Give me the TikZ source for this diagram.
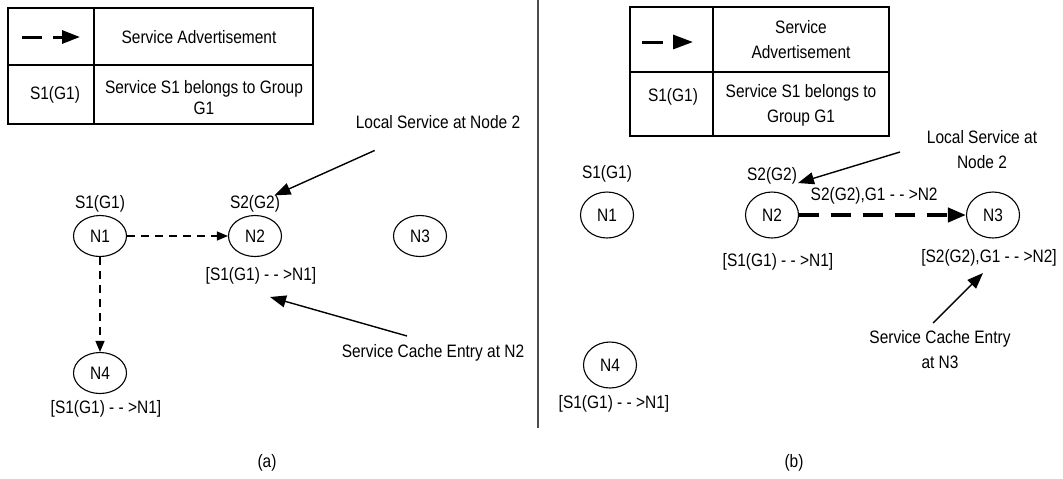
\documentclass[tikz,border=0pt]{standalone}
\usepackage{fontspec}
\setmainfont{Liberation Sans}[FakeStretch=0.86]
\usetikzlibrary{arrows.meta,positioning,shapes.geometric}

\tikzset{
  netnode/.style={ellipse,draw,line width=0.55pt,minimum width=26.5pt,minimum height=20.5pt,inner sep=0pt},
  tag/.style={inner sep=0pt},
  tabline/.style={line width=0.7pt},
  advert/.style={dash pattern=on 4pt off 3pt,line width=0.55pt,-{Triangle[length=5.5pt,width=4.5pt]}},
  bigadvert/.style={dash pattern=on 10pt off 6pt,line width=2pt,-{Triangle[length=9pt,width=7pt]}},
  pointer/.style={line width=0.7pt,-{Triangle[length=8pt,width=6pt]}},
}

\begin{document}
\begin{tikzpicture}[x=0.5pt,y=-0.5pt,font=\fontsize{9}{12.5}\selectfont]
    \useasboundingbox (0,0) rectangle (1063,478);

    % (a) legend
    \draw[tabline] (8,8) rectangle (313,124);
    \draw[tabline] (94,8) -- (94,124);
    \draw[tabline] (8,65) -- (313,65);
    \coordinate (keyA1) at (22,37);
    \coordinate (keyA2) at (80,37);
    \draw[line width=1.5pt,dash pattern=on 10pt off 5.5pt,-{Triangle[length=9pt,width=6.5pt]}] (keyA1) -- (keyA2);
    \node (advA) at (199,37) {Service Advertisement};
    \node (sgA) at (55,95) {S1(G1)};
    \node[align=center,font=\fontsize{9}{10.5}\selectfont] (belA) at (204,98) {Service S1 belongs to Group\\G1};

    % (a) nodes
    \node[netnode] (N1a) at (100,236) {N1};
    \node[netnode] (N2a) at (255,236) {N2};
    \node[netnode] (N3a) at (420,236) {N3};
    \node[netnode] (N4a) at (100,373) {N4};
    \node[tag,above=1pt of N1a] (svcA1) {S1(G1)};
    \node[tag,above=1pt of N2a] (svcA2) {S2(G2)};
    \node[tag,below=5pt of N2a,xshift=3pt] (entA2) {[S1(G1) - - >N1]};
    \node[tag,below=3pt of N4a,xshift=3pt] (entA4) {[S1(G1) - - >N1]};
    \draw[advert] (N1a) -- (N2a);
    \draw[advert] (N1a) -- (N4a);

    % (a) notes
    \node (locA) at (438,122) {Local Service at Node 2};
    \draw[pointer,shorten <=18pt] (locA) -- (svcA2);
    \node (cacheA) at (433,353) {Service Cache Entry at N2};
    \coordinate (cacheAfrom) at (407,336);
    \coordinate (cacheAtip) at (270,297);
    \draw[pointer] (cacheAfrom) -- (cacheAtip);

    % divider and captions
    \coordinate (divTop) at (538,0);
    \coordinate (divBot) at (538,428);
    \draw[gray!60!black,line width=0.8pt] (divTop) -- (divBot);
    \node (capA) at (267,463) {(a)};
    \node (capB) at (794,463) {(b)};

    % (b) legend
    \draw[tabline] (630,7) rectangle (889,136);
    \draw[tabline] (713,7) -- (713,136);
    \draw[tabline] (630,72) -- (889,72);
    \coordinate (keyB1) at (642,42);
    \coordinate (keyB2) at (693,42);
    \draw[line width=1.5pt,dash pattern=on 10.5pt off 5pt,-{Triangle[length=10pt,width=7pt]}] (keyB1) -- (keyB2);
    \node[align=center] (advB) at (801,40) {Service\\Advertisement};
    \node (sgB) at (673,97) {S1(G1)};
    \node[align=center] (belB) at (801,105) {Service S1 belongs to\\Group G1};

    % (b) nodes
    \node[netnode,minimum height=23pt] (N1b) at (607,215) {N1};
    \node[netnode,minimum height=23pt] (N2b) at (772,215) {N2};
    \node[netnode,minimum height=23pt] (N3b) at (993,215) {N3};
    \node[netnode,minimum height=23pt] (N4b) at (610,365) {N4};
    \node[tag,above=4.5pt of N1b] (svcB1) {S1(G1)};
    \node[tag,above=3.5pt of N2b] (svcB2) {S2(G2)};
    \node[tag,below=7pt of N2b,xshift=3pt] (entB2) {[S1(G1) - - >N1]};
    \node[tag,below=5pt of N3b,xshift=-2pt] (entB3) {[S2(G2),G1 - - >N2]};
    \node[tag,below=3pt of N4b,xshift=2pt] (entB4) {[S1(G1) - - >N1]};
    \draw[bigadvert] (N2b) -- node[above=1pt,pos=0.45] (advlbl) {S2(G2),G1 - - >N2} (N3b);

    % (b) notes
    \node[align=center] (locB) at (982,150) {Local Service at\\Node 2};
    \coordinate (locBfrom) at (900,152);
    \coordinate (locBtip) at (798,183);
    \draw[pointer] (locBfrom) -- (locBtip);
    \node[align=center] (cacheB) at (940,350) {Service Cache Entry\\at N3};
    \coordinate (cacheBfrom) at (933,323);
    \coordinate (cacheBtip) at (983,273);
    \draw[pointer] (cacheBfrom) -- (cacheBtip);
\end{tikzpicture}
\end{document}
